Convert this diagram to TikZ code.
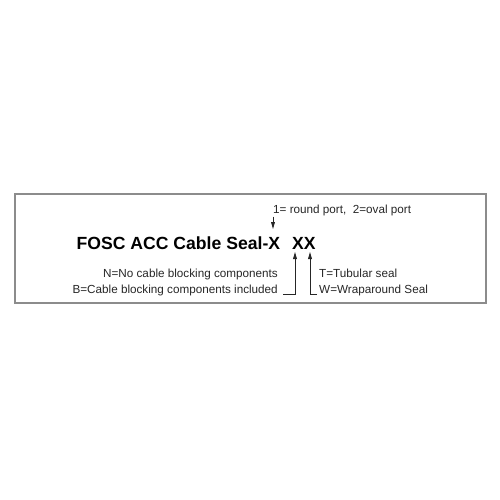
\documentclass[tikz,border=0pt]{standalone}
\usepackage{fontspec}
\setmainfont{Liberation Sans}
\usetikzlibrary{arrows.meta}
\begin{document}
\begin{tikzpicture}[x=1pt,y=-1pt,
  frame/.style={draw=black!45,line width=1.4pt},
  ttl/.style={font=\fontsize{17.6}{19}\selectfont\bfseries,inner sep=0pt},
  lbl/.style={font=\fontsize{11.7}{13}\selectfont,inner sep=0pt,text=black!85},
  arr/.style={draw=black!85,line width=0.8pt,-{Triangle[length=7pt,width=3.8pt]}}]
\useasboundingbox (0,0) rectangle (500,500);
\draw[frame] (15,194) rectangle (486,303);
\node[ttl,anchor=base west] (t1) at (76.5,249.5) {FOSC ACC Cable Seal-X};
\node[ttl,anchor=base west] (t2) at (292,249.5) {XX};
\node[lbl,anchor=base west] (l1) at (273,213) {1= round port,\ \ 2=oval port};
\node[lbl,anchor=base east] (n) at (278,277.5) {N=No cable blocking components};
\node[lbl,anchor=base east] (b) at (278,293.5) {B=Cable blocking components included};
\node[lbl,anchor=base west] (tt) at (319,277.5) {T=Tubular seal};
\node[lbl,anchor=base west] (w) at (319,293.5) {W=Wraparound Seal};
\coordinate (xa) at (273,229);
\coordinate (xb) at (295,252);
\coordinate (xc) at (310,252);
\draw[arr] (l1.south west) ++(0,1) coordinate (s1) -- (xa);
\draw[arr] ([xshift=5pt,yshift=-4pt]b.east) -| (xb);
\draw[arr] ([xshift=-2pt,yshift=-4pt]w.west) -| (xc);
\end{tikzpicture}
\end{document}
